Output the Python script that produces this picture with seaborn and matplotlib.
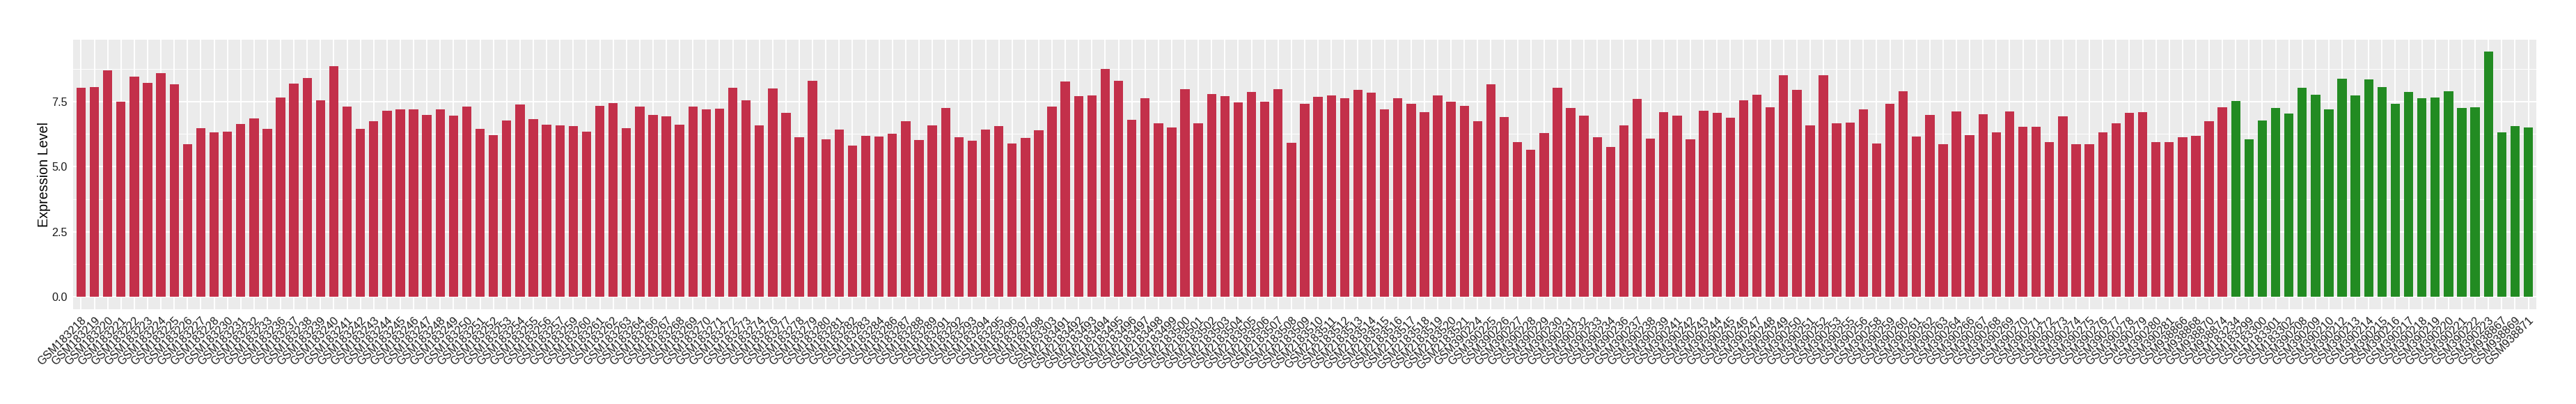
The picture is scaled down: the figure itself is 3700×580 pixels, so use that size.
import numpy as np
import pandas as pd
import matplotlib
matplotlib.use("Agg")
import matplotlib.pyplot as plt
import seaborn as sns
from matplotlib.ticker import MultipleLocator, FormatStrFormatter

# ---------------- data ----------------
tumor_samples = [
    "GSM183218", "GSM183219", "GSM183220", "GSM183221", "GSM183222", "GSM183223", "GSM183224",
    "GSM183225", "GSM183226", "GSM183227", "GSM183228", "GSM183230", "GSM183231", "GSM183232",
    "GSM183233", "GSM183236", "GSM183237", "GSM183238", "GSM183239", "GSM183240", "GSM183241",
    "GSM183242", "GSM183243", "GSM183244", "GSM183245", "GSM183246", "GSM183247", "GSM183248",
    "GSM183249", "GSM183250", "GSM183251", "GSM183252", "GSM183253", "GSM183254", "GSM183255",
    "GSM183256", "GSM183257", "GSM183259", "GSM183260", "GSM183261", "GSM183262", "GSM183263",
    "GSM183264", "GSM183266", "GSM183267", "GSM183268", "GSM183269", "GSM183270", "GSM183271",
    "GSM183272", "GSM183273", "GSM183274", "GSM183276", "GSM183277", "GSM183278", "GSM183279",
    "GSM183280", "GSM183281", "GSM183282", "GSM183283", "GSM183284", "GSM183286", "GSM183287",
    "GSM183288", "GSM183289", "GSM183291", "GSM183292", "GSM183293", "GSM183294", "GSM183295",
    "GSM183296", "GSM183297", "GSM183298", "GSM183303",
    "GSM2183491", "GSM2183492", "GSM2183493", "GSM2183494", "GSM2183495", "GSM2183496",
    "GSM2183497", "GSM2183498", "GSM2183499", "GSM2183500", "GSM2183501", "GSM2183502",
    "GSM2183503", "GSM2183504", "GSM2183505", "GSM2183506", "GSM2183507", "GSM2183508",
    "GSM2183509", "GSM2183510", "GSM2183511", "GSM2183512", "GSM2183513", "GSM2183514",
    "GSM2183515", "GSM2183516", "GSM2183517", "GSM2183518", "GSM2183519", "GSM2183520",
    "GSM2183521",
    "GSM390224", "GSM390225", "GSM390226", "GSM390227", "GSM390228", "GSM390229", "GSM390230",
    "GSM390231", "GSM390232", "GSM390233", "GSM390234", "GSM390236", "GSM390237", "GSM390238",
    "GSM390239", "GSM390241", "GSM390242", "GSM390243", "GSM390244", "GSM390245", "GSM390246",
    "GSM390247", "GSM390248", "GSM390249", "GSM390250", "GSM390251", "GSM390252", "GSM390253",
    "GSM390255", "GSM390256", "GSM390258", "GSM390259", "GSM390260", "GSM390261", "GSM390262",
    "GSM390263", "GSM390264", "GSM390266", "GSM390267", "GSM390268", "GSM390269", "GSM390270",
    "GSM390271", "GSM390272", "GSM390273", "GSM390274", "GSM390275", "GSM390276", "GSM390277",
    "GSM390278", "GSM390279", "GSM390280", "GSM390281",
    "GSM938866", "GSM938868", "GSM938870", "GSM938874",
]

tumor_values = [
    8.02, 8.05, 8.69, 7.49, 8.45, 8.21, 8.58, 8.16, 5.87, 6.48,
    6.32, 6.35, 6.64, 6.85, 6.45, 7.65, 8.18, 8.40, 7.54, 8.85,
    7.30, 6.45, 6.75, 7.15, 7.20, 7.20, 6.99, 7.20, 6.96, 7.30,
    6.45, 6.21, 6.77, 7.38, 6.83, 6.61, 6.59, 6.56, 6.35, 7.33,
    7.44, 6.48, 7.30, 6.99, 6.93, 6.61, 7.30, 7.20, 7.23, 8.02,
    7.54, 6.59, 8.00, 7.07, 6.13, 8.29, 6.06, 6.43, 5.82, 6.19,
    6.16, 6.27, 6.75, 6.03, 6.59, 7.25, 6.13, 6.00, 6.43, 6.56,
    5.90, 6.11, 6.40, 7.30, 8.26, 7.70, 7.73, 8.74, 8.29, 6.80,
    7.62, 6.67, 6.51, 7.97, 6.67, 7.78, 7.70, 7.46, 7.86, 7.49,
    7.97, 5.92, 7.41, 7.68, 7.73, 7.62, 7.94, 7.84, 7.20, 7.62,
    7.41, 7.09, 7.73, 7.49, 7.33, 6.75, 8.16, 6.91, 5.95, 5.66,
    6.29, 8.02, 7.25, 6.96, 6.13, 5.76, 6.59, 7.60, 6.08, 7.09,
    6.96, 6.06, 7.15, 7.07, 6.88, 7.54, 7.76, 7.28, 8.50, 7.94,
    6.59, 8.50, 6.67, 6.69, 7.20, 5.90, 7.41, 7.89, 6.16, 6.99,
    5.87, 7.12, 6.21, 7.01, 6.32, 7.12, 6.53, 6.53, 5.95, 6.93,
    5.85, 5.85, 6.32, 6.67, 7.07, 7.09, 5.95, 5.95, 6.13, 6.19,
    6.75, 7.28,
]

normal_samples = [
    "GSM183234", "GSM183299", "GSM183300", "GSM183301", "GSM183302",
    "GSM390208", "GSM390209", "GSM390210", "GSM390212", "GSM390213", "GSM390214",
    "GSM390215", "GSM390216", "GSM390217", "GSM390218", "GSM390219", "GSM390220",
    "GSM390221", "GSM390222", "GSM390223",
    "GSM938867", "GSM938869", "GSM938871",
]

normal_values = [
    7.52, 6.06, 6.77, 7.25, 7.04, 8.02, 7.76, 7.20, 8.37, 7.73,
    8.34, 8.05, 7.41, 7.86, 7.62, 7.65, 7.89, 7.25, 7.28, 9.41,
    6.32, 6.56, 6.51,
]

group_names = ["Tumor", "Normal"]
group_colors = ["#C3304A", "#228B22"]

df = pd.DataFrame({
    "sample": tumor_samples + normal_samples,
    "expr": tumor_values + normal_values,
    "group": [group_names[0]] * len(tumor_samples) + [group_names[1]] * len(normal_samples),
})

# ---------------- style ----------------
sns.set_theme(style="darkgrid")
plt.rcParams["font.family"] = ["Liberation Sans", "DejaVu Sans"]

fig = plt.figure(figsize=(37, 5.8), dpi=100)
fig.patch.set_facecolor("white")
ax = fig.add_axes([0.02838, 0.2348, 0.95621, 0.6674])
ax.set_facecolor("#EBEBEB")

sns.barplot(
    data=df, x="sample", y="expr", hue="group",
    palette=dict(zip(group_names, group_colors)),
    order=list(df["sample"]),
    dodge=False, width=0.7, saturation=1, legend=False,
    linewidth=0, errorbar=None, ax=ax,
)

n = len(df)
ax.set_xlim(-0.6, n - 1 + 0.6)
ax.set_ylim(-0.47, 9.88)

ax.yaxis.set_major_locator(MultipleLocator(2.5))
ax.yaxis.set_minor_locator(MultipleLocator(1.25))
ax.yaxis.set_major_formatter(FormatStrFormatter("%.1f"))

ax.grid(False)
ax.grid(which="major", axis="both", color="white", linewidth=1.4)
ax.grid(which="minor", axis="y", color="white", linewidth=0.7)
ax.set_axisbelow(True)

for sp in ax.spines.values():
    sp.set_visible(False)

ax.tick_params(axis="both", which="major", length=3.6, width=1.1, color="#333333",
               labelsize=11.6, labelcolor="#1a1a1a", pad=2.5)
ax.tick_params(axis="both", which="minor", length=0)

ax.set_xticks(range(n))
ax.set_xticklabels(df["sample"], rotation=45, ha="right", va="top",
                   rotation_mode="anchor")

ax.set_xlabel("")
ax.set_ylabel("Expression Level", fontsize=14.2, color="black", labelpad=1)

fig.savefig("out.png", dpi=100, facecolor="white")
